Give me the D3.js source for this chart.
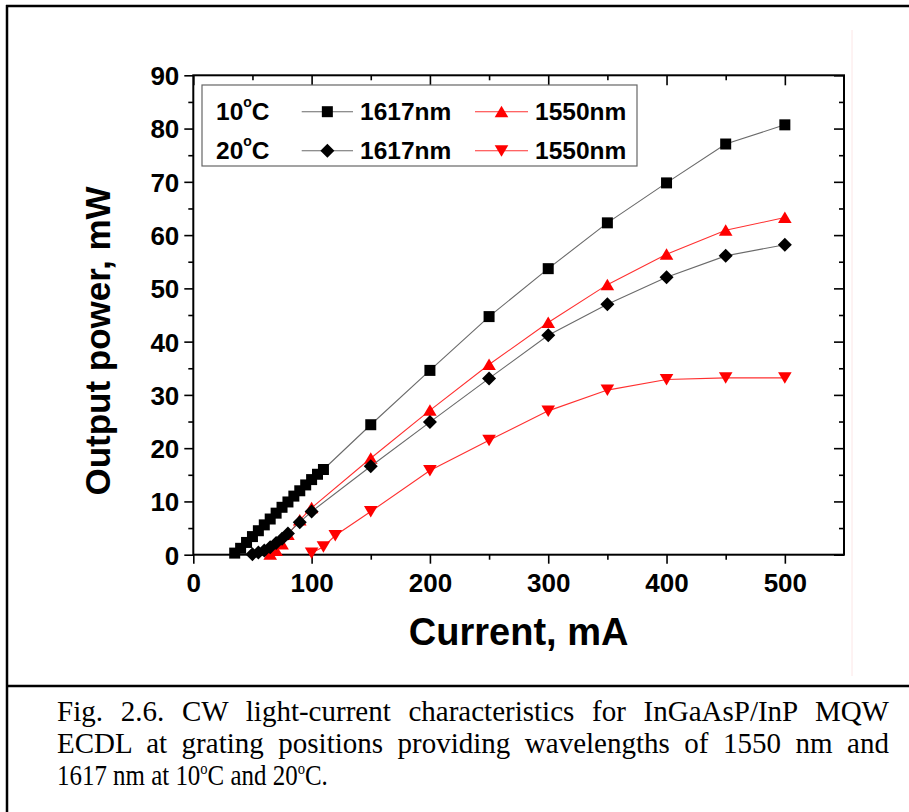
<!DOCTYPE html>
<html><head><meta charset="utf-8">
<script src="https://cdn.jsdelivr.net/npm/d3@7"></script>
<style>html,body{margin:0;padding:0;background:#fff;} svg{display:block;}</style>
</head><body>
<svg id="c" width="909" height="812"></svg>
<script>
// ---- data ----
const xTickValues = [0, 100, 200, 300, 400, 500];
const xMinorTicks = [50, 150, 250, 350, 450];
const yTickValues = [0, 10, 20, 30, 40, 50, 60, 70, 80, 90];
const yMinorTicks = [5, 15, 25, 35, 45, 55, 65, 75, 85];

// 10°C, 1617 nm (squares)
const I10_1617 = [35, 40, 45, 50, 55, 60, 65, 70, 75, 80, 85, 90, 95, 100, 105, 110, 150, 200, 250, 300, 350, 400, 450, 500];
const P10_1617 = [0.3, 1.2, 2.3, 3.4, 4.5, 5.6, 6.7, 7.8, 8.9, 9.9, 11.0, 12.0, 13.1, 14.1, 15.1, 16.0, 24.4, 34.6, 44.7, 53.7, 62.3, 69.8, 77.1, 80.7];
// 10°C, 1550 nm (up triangles)
const I10_1550 = [65, 70, 75, 80, 90, 100, 150, 200, 250, 300, 350, 400, 450, 500];
const P10_1550 = [0.1, 0.8, 2.0, 3.8, 6.5, 8.8, 18.1, 27.1, 35.7, 43.6, 50.7, 56.4, 60.9, 63.3];
// 20°C, 1617 nm (diamonds)
const I20_1617 = [50, 55, 60, 65, 70, 75, 80, 90, 100, 150, 200, 250, 300, 350, 400, 450, 500];
const P20_1617 = [0.1, 0.4, 0.8, 1.4, 2.2, 3.0, 4.0, 6.1, 8.1, 16.6, 24.9, 33.1, 41.2, 47.0, 52.1, 56.1, 58.2];
// 20°C, 1550 nm (down triangles)
const I20_1550 = [100, 110, 120, 150, 200, 250, 300, 350, 400, 450, 500];
const P20_1550 = [0.3, 1.5, 3.6, 8.1, 15.8, 21.5, 27.0, 30.9, 32.9, 33.2, 33.2];

const legendRows = [
  {temp: "10", items: [{label: "1617nm", key: "sq"}, {label: "1550nm", key: "up"}]},
  {temp: "20", items: [{label: "1617nm", key: "dia"}, {label: "1550nm", key: "down"}]}
];
const captionLines = [
  "Fig. 2.6. CW light-current characteristics for InGaAsP/InP MQW",
  "ECDL at grating positions providing wavelengths of 1550 nm and"
];

// ---- drawing ----
const svg = d3.select('#c');
const FONT = "'Liberation Sans', Arial, Helvetica, sans-serif";
const SERIF = "'Liberation Serif', 'Times New Roman', serif";

// page borders
svg.append('line').attr('x1', 6).attr('x2', 909).attr('y1', 6).attr('y2', 6).attr('stroke', '#000').attr('stroke-width', 2.5);
svg.append('line').attr('x1', 7).attr('x2', 7).attr('y1', 5).attr('y2', 812).attr('stroke', '#000').attr('stroke-width', 2.5);
svg.append('line').attr('x1', 6).attr('x2', 909).attr('y1', 686).attr('y2', 686).attr('stroke', '#000').attr('stroke-width', 2.5);
svg.append('line').attr('x1', 852).attr('x2', 852).attr('y1', 30).attr('y2', 676).attr('stroke', '#fce6e6').attr('stroke-width', 1);

const x = d3.scaleLinear().domain([0, 550]).range([193.3, 844]);
const y = d3.scaleLinear().domain([0, 90]).range([554.7, 75.3]);

function styleAxis(g) {
  g.select('.domain').remove();
  g.selectAll('.tick line').attr('stroke', '#000').attr('stroke-width', 1.6);
}
// bottom
svg.append('g').attr('transform', `translate(0,${y(0)})`)
  .call(d3.axisBottom(x).tickValues(xTickValues).tickSize(9).tickFormat(d3.format('d')))
  .call(styleAxis)
  .call(g => g.selectAll('text').attr('y', 37).attr('dy', null)
    .style('font-family', FONT).style('font-weight', 'bold').style('font-size', '26px').attr('fill', '#000'));
svg.append('g').attr('transform', `translate(0,${y(0)})`)
  .call(d3.axisBottom(x).tickValues(xMinorTicks).tickSize(5).tickFormat(''))
  .call(styleAxis);
// top (inward)
svg.append('g').attr('transform', `translate(0,${y(90)})`)
  .call(d3.axisTop(x).tickValues(xTickValues).tickSize(-10).tickFormat(''))
  .call(styleAxis);
svg.append('g').attr('transform', `translate(0,${y(90)})`)
  .call(d3.axisTop(x).tickValues(xMinorTicks).tickSize(-5).tickFormat(''))
  .call(styleAxis);
// left
svg.append('g').attr('transform', `translate(${x(0)},0)`)
  .call(d3.axisLeft(y).tickValues(yTickValues).tickSize(9).tickFormat(d3.format('d')))
  .call(styleAxis)
  .call(g => g.selectAll('text').attr('x', -14).attr('dy', '0.36em')
    .style('font-family', FONT).style('font-weight', 'bold').style('font-size', '26px').attr('fill', '#000'));
svg.append('g').attr('transform', `translate(${x(0)},0)`)
  .call(d3.axisLeft(y).tickValues(yMinorTicks).tickSize(5).tickFormat(''))
  .call(styleAxis);
// right (inward)
svg.append('g').attr('transform', `translate(${x(550)},0)`)
  .call(d3.axisRight(y).tickValues(yTickValues).tickSize(-10).tickFormat(''))
  .call(styleAxis);
svg.append('g').attr('transform', `translate(${x(550)},0)`)
  .call(d3.axisRight(y).tickValues(yMinorTicks).tickSize(-5).tickFormat(''))
  .call(styleAxis);

// frame
svg.append('rect').attr('x', x(0)).attr('y', y(90)).attr('width', x(550) - x(0)).attr('height', y(0) - y(90))
  .attr('fill', 'none').attr('stroke', '#000').attr('stroke-width', 2);

// markers
const shapes = {
  sq: () => `M-5.5,-5.5h11v11h-11Z`,
  dia: () => `M0,-7L7,0L0,7L-7,0Z`,
  up: () => `M0,-6L6.8,5.5L-6.8,5.5Z`,
  down: () => `M0,6L6.8,-5.5L-6.8,-5.5Z`
};
const series = [
  {I: I10_1617, P: P10_1617, key: 'sq', color: '#000', line: '#6a6a6a'},
  {I: I10_1550, P: P10_1550, key: 'up', color: '#ff0000', line: '#ff3030'},
  {I: I20_1617, P: P20_1617, key: 'dia', color: '#000', line: '#6a6a6a'},
  {I: I20_1550, P: P20_1550, key: 'down', color: '#ff0000', line: '#ff3030'}
];
const line = d3.line().x(d => x(d[0])).y(d => y(d[1]));
series.forEach(s => {
  const pts = s.I.map((v, i) => [v, s.P[i]]);
  svg.append('path').attr('d', line(pts)).attr('fill', 'none').attr('stroke', s.line).attr('stroke-width', 1.1);
  svg.append('g').selectAll('path').data(pts).join('path')
    .attr('d', shapes[s.key]())
    .attr('transform', d => `translate(${x(d[0])},${y(d[1])})`)
    .attr('fill', s.color);
});

// legend
const lg = svg.append('g');
lg.append('rect').attr('x', 202).attr('y', 85).attr('width', 435).attr('height', 81)
  .attr('fill', '#fff').attr('stroke', '#666').attr('stroke-width', 1.2);
const rowY = [111.7, 150.7];
const styleFor = {sq: series[0], up: series[1], dia: series[2], down: series[3]};
legendRows.forEach((r, ri) => {
  const cy = rowY[ri];
  const t = lg.append('text').attr('x', 216).attr('y', cy + 8.5)
    .style('font-family', FONT).style('font-weight', 'bold').style('font-size', '24.5px').attr('fill', '#000');
  t.append('tspan').text(r.temp);
  t.append('tspan').attr('dy', -13).style('font-size', '14px').text('o');
  t.append('tspan').attr('dy', 13).text('C');
  const segX = [[301.7, 353], [475, 528]];
  const txtX = [360, 535];
  r.items.forEach((it, ii) => {
    const st = styleFor[it.key];
    lg.append('line').attr('x1', segX[ii][0]).attr('x2', segX[ii][1]).attr('y1', cy).attr('y2', cy)
      .attr('stroke', st.line).attr('stroke-width', 1.1);
    lg.append('path').attr('d', shapes[it.key]())
      .attr('transform', `translate(${(segX[ii][0] + segX[ii][1]) / 2},${cy})`).attr('fill', st.color);
    lg.append('text').attr('x', txtX[ii]).attr('y', cy + 8.5).text(it.label)
      .style('font-family', FONT).style('font-weight', 'bold').style('font-size', '24.5px').attr('fill', '#000');
  });
});

// axis titles
svg.append('text').attr('x', (x(0) + x(550)) / 2).attr('y', 645).attr('text-anchor', 'middle')
  .style('font-family', FONT).style('font-weight', 'bold').style('font-size', '38px').text('Current, mA');
svg.append('text').attr('transform', 'translate(110,341) rotate(-90)').attr('text-anchor', 'middle')
  .style('font-family', FONT).style('font-weight', 'bold').style('font-size', '35px').text('Output power, mW');

// caption: first two lines justified, last line condensed
const capX0 = 57, capX1 = 889;
const capBase = [721, 753, 785];
captionLines.forEach((txt, i) => {
  const t = svg.append('text').attr('x', capX0).attr('y', capBase[i])
    .style('font-family', SERIF).style('font-size', '29px').attr('fill', '#000').text(txt);
  const w = t.node().getComputedTextLength();
  const nSp = (txt.match(/ /g) || []).length;
  t.style('word-spacing', ((capX1 - capX0 - w) / nSp) + 'px');
});
const cap3 = svg.append('g').attr('transform', `translate(${capX0},0) scale(0.86,1)`);
const t3 = cap3.append('text').attr('x', 0).attr('y', capBase[2])
  .style('font-family', SERIF).style('font-size', '29px').attr('fill', '#000');
t3.append('tspan').text('1617 nm at 10');
t3.append('tspan').attr('dy', -11).style('font-size', '17px').text('o');
t3.append('tspan').attr('dy', 11).text('C and 20');
t3.append('tspan').attr('dy', -11).style('font-size', '17px').text('o');
t3.append('tspan').attr('dy', 11).text('C.');
</script>
</body></html>
